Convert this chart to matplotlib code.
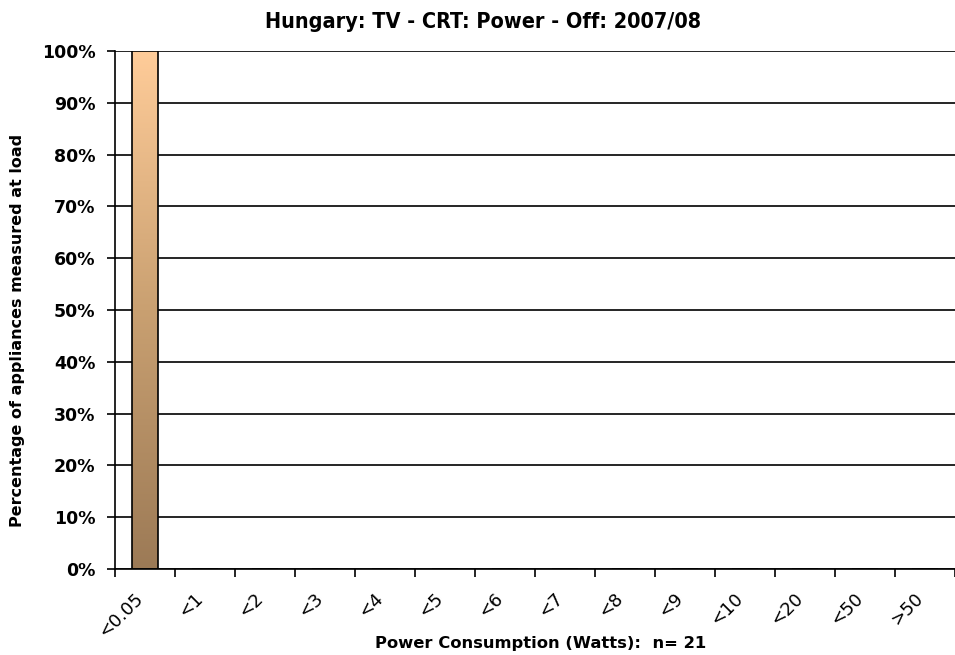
import matplotlib.pyplot as plt
import matplotlib.transforms as mtransforms
import numpy as np
from matplotlib.colors import LinearSegmentedColormap

categories = ["<0.05", "<1", "<2", "<3", "<4", "<5", "<6", "<7", "<8", "<9",
              "<10", "<20", "<50", ">50"]
percent = [100, 0, 0, 0, 0, 0, 0, 0, 0, 0, 0, 0, 0, 0]

plt.rcParams['font.family'] = ['DejaVu Sans']
plt.rcParams['font.weight'] = 'bold'

fig = plt.figure(figsize=(9.55, 6.55), dpi=100)
ax = fig.add_axes([115/955, 86/655, 840/955, 518/655])

x = np.arange(len(categories))
width = 0.43
bars = ax.bar(x, percent, width=width, color='none', edgecolor='black', linewidth=1.2, zorder=3)

# vertical gradient fill inside each bar (light orange top -> brown bottom)
cmap = LinearSegmentedColormap.from_list("bar", ["#9c7a56", "#c9a071", "#ffcc99"])
grad = np.linspace(0, 1, 256).reshape(-1, 1)
for b in bars:
    h = b.get_height()
    if h <= 0:
        continue
    ax.imshow(grad, cmap=cmap, origin='lower', aspect='auto',
              extent=[b.get_x(), b.get_x() + b.get_width(), 0, h], zorder=2)

ax.set_xlim(-0.5, len(categories) - 0.5)
ax.set_ylim(0, 100)

ax.set_yticks(np.arange(0, 101, 10))
ax.set_yticklabels([f"{v}%" for v in range(0, 101, 10)], fontsize=12.5, fontweight='bold')
ax.yaxis.grid(True, color='black', linewidth=1.2)
ax.set_axisbelow(True)

ax.set_xticks(x)
ax.set_xticklabels(categories, rotation=45, ha='right', rotation_mode='anchor',
                   fontsize=13, fontweight='normal')
ax.tick_params(axis='x', which='major', length=0, pad=15)
shift = mtransforms.ScaledTranslation(-11/100, 0, fig.dpi_scale_trans)
for lbl in ax.get_xticklabels():
    lbl.set_transform(lbl.get_transform() + shift)
ax.set_xticks(np.arange(len(categories) + 1) - 0.5, minor=True)
ax.tick_params(axis='x', which='minor', length=6, width=1.2, direction='out')
ax.tick_params(axis='y', length=6, width=1.2, direction='out', pad=8)

for s in ['top', 'right']:
    ax.spines[s].set_visible(False)
ax.spines['left'].set_linewidth(1.2)
ax.spines['bottom'].set_linewidth(1.2)

fig.text(0.506, 0.966, "Hungary: TV - CRT: Power - Off: 2007/08", ha='center', va='center',
         fontsize=15.5, fontweight='bold', fontstretch='condensed')
fig.text(0.018, 0.495, "Percentage of appliances measured at load", rotation=90,
         ha='center', va='center', fontsize=11.5, fontweight='bold')
fig.text(0.566, 0.018, "Power Consumption (Watts):  n= 21", ha='center', va='center',
         fontsize=11.8, fontweight='bold')

fig.savefig("out.png", dpi=100)
